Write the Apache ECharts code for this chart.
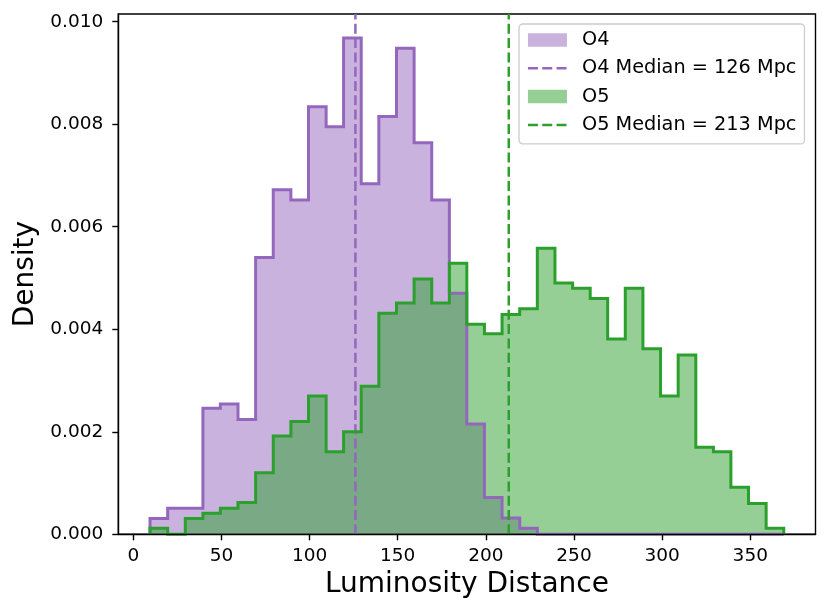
<!DOCTYPE html>
<html>
<head>
<meta charset="utf-8">
<script src="https://cdn.jsdelivr.net/npm/echarts@6/dist/echarts.min.js"></script>
<style>
html,body{margin:0;padding:0;background:#fff;}
#chart{width:831px;height:616px;}
</style>
</head>
<body>
<div id="chart"></div>
<script>
// ---- data ----
const binEdges = [9.5, 19.5, 29.5, 39.5, 49.4, 59.4, 69.4, 79.4, 89.4, 99.4, 109.4, 119.3, 129.3,
  139.3, 149.3, 159.3, 169.3, 179.3, 189.2, 199.2, 209.2, 219.2, 229.2, 239.2, 249.2, 259.2,
  269.1, 279.1, 289.1, 299.1, 309.1, 319.1, 329.1, 339.0, 349.0, 359.0, 369.0];
const o4Density = [0.00031, 0.00051, 0.00051, 0.00246, 0.00254, 0.00224, 0.00540, 0.00672,
  0.00652, 0.00834, 0.00795, 0.00968, 0.00684, 0.00815, 0.00948, 0.00764, 0.00652, 0.00470,
  0.00215, 0.00072, 0.00032, 0.00012, 0, 0, 0, 0, 0, 0, 0, 0, 0, 0, 0, 0, 0, 0];
const o5Density = [0.00012, 0, 0.00031, 0.00041, 0.00051, 0.00062, 0.00120, 0.00192, 0.00220,
  0.00270, 0.00161, 0.00200, 0.00289, 0.00431, 0.00451, 0.00498, 0.00451, 0.00529, 0.00410,
  0.00391, 0.00429, 0.00440, 0.00558, 0.00490, 0.00480, 0.00460, 0.00381, 0.00480, 0.00362,
  0.00270, 0.00350, 0.00170, 0.00161, 0.00092, 0.00060, 0.00012];
const o4Median = 126;
const o5Median = 213;
const xTicks = [0, 50, 100, 150, 200, 250, 300, 350];
const yTicks = [0, 0.002, 0.004, 0.006, 0.008, 0.010];
const xMin = -8.5, xMax = 387, yMin = 0, yMax = 0.01015;

const purple = '#9467bd', green = '#2ca02c';
const purpleFill = 'rgba(148,103,189,0.5)', greenFill = 'rgba(44,160,44,0.5)';
const FONT = 'DejaVu Sans';
const o4MedLabel = 'O4 Median = ' + o4Median + ' Mpc';
const o5MedLabel = 'O5 Median = ' + o5Median + ' Mpc';

function stepData(edges, vals) {
  const d = [[edges[0], 0]];
  for (let i = 0; i < vals.length; i++) d.push([edges[i], vals[i]]);
  d.push([edges[edges.length - 1], 0]);
  return d;
}

const dash = [10, 4.3];
const chart = echarts.init(document.getElementById('chart'), null, {renderer: 'canvas'});
chart.setOption({
  animation: false,
  backgroundColor: '#fff',
  textStyle: {fontFamily: FONT},
  grid: {left: 118.3, right: 15.5, top: 14, bottom: 81.7, show: true,
    borderColor: '#000', borderWidth: 1.4, backgroundColor: 'transparent'},
  xAxis: {
    type: 'value', min: xMin, max: xMax, z: 10,
    axisLine: {show: true, onZero: false, lineStyle: {color: '#000', width: 1.4}},
    axisTick: {show: true, customValues: xTicks, length: 6, lineStyle: {color: '#000', width: 1.4}},
    axisLabel: {customValues: xTicks, color: '#000', fontSize: 18.5, margin: 12, fontFamily: FONT},
    splitLine: {show: false},
    name: 'Luminosity Distance', nameLocation: 'middle', nameGap: 36,
    nameTextStyle: {fontSize: 28, color: '#000', fontFamily: FONT}
  },
  yAxis: {
    type: 'value', min: yMin, max: yMax, z: 10,
    axisLine: {show: true, onZero: false, lineStyle: {color: '#000', width: 1.4}},
    axisTick: {show: true, customValues: yTicks, length: 6, lineStyle: {color: '#000', width: 1.4}},
    axisLabel: {customValues: yTicks, color: '#000', fontSize: 18.5, margin: 15, fontFamily: FONT,
      formatter: v => Number(v).toFixed(3)},
    splitLine: {show: false},
    name: 'Density', nameLocation: 'middle', nameGap: 76, nameRotate: 90,
    nameTextStyle: {fontSize: 28, color: '#000', fontFamily: FONT}
  },
  legend: {
    orient: 'vertical', left: 519, top: 24, padding: [6, 8, 9, 7.7], itemGap: 8.3,
    itemWidth: 39, itemHeight: 13.5, selectedMode: false,
    backgroundColor: 'rgba(255,255,255,0.8)', borderColor: '#cccccc', borderWidth: 1.3, borderRadius: 4,
    textStyle: {fontSize: 19.3, color: '#000', lineHeight: 20, padding: [0, 0, 0, 10], fontFamily: FONT},
    data: [
      {name: 'O4', icon: 'rect', itemStyle: {color: purpleFill, borderWidth: 0}},
      {name: o4MedLabel, itemStyle: {opacity: 0}, lineStyle: {color: purple, width: 2.5, type: dash}},
      {name: 'O5', icon: 'rect', itemStyle: {color: greenFill, borderWidth: 0}},
      {name: o5MedLabel, itemStyle: {opacity: 0}, lineStyle: {color: green, width: 2.5, type: dash}}
    ]
  },
  series: [
    {name: 'O4', type: 'line', step: 'end', symbol: 'none', silent: true, z: 2,
      data: stepData(binEdges, o4Density), itemStyle: {color: purple},
      lineStyle: {width: 0, opacity: 0}, areaStyle: {color: purpleFill, opacity: 1}},
    {name: 'O5', type: 'line', step: 'end', symbol: 'none', silent: true, z: 2,
      data: stepData(binEdges, o5Density), itemStyle: {color: green},
      lineStyle: {width: 0, opacity: 0}, areaStyle: {color: greenFill, opacity: 1}},
    {name: 'O4 outline', type: 'line', step: 'end', symbol: 'none', silent: true, z: 3,
      data: stepData(binEdges, o4Density),
      lineStyle: {color: purple, width: 3, join: 'miter'}},
    {name: o4MedLabel, type: 'line', symbol: 'none', silent: true, z: 3,
      data: [[o4Median, yMin], [o4Median, yMax]], itemStyle: {color: purple},
      lineStyle: {color: purple, width: 2.5, type: dash}},
    {name: 'O5 outline', type: 'line', step: 'end', symbol: 'none', silent: true, z: 3,
      data: stepData(binEdges, o5Density),
      lineStyle: {color: green, width: 3, join: 'miter'}},
    {name: o5MedLabel, type: 'line', symbol: 'none', silent: true, z: 3,
      data: [[o5Median, yMin], [o5Median, yMax]], itemStyle: {color: green},
      lineStyle: {color: green, width: 2.5, type: dash}}
  ]
});
</script>
</body>
</html>
